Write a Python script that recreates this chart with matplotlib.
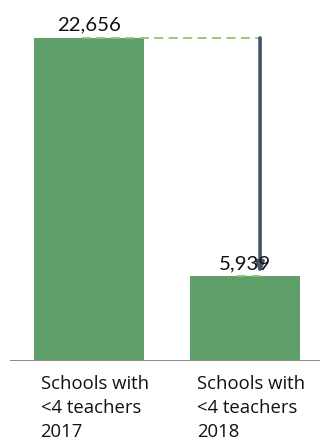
import matplotlib
matplotlib.use("Agg")
import matplotlib.pyplot as plt

# Schools with fewer than 4 teachers
categories = ["Schools with\n<4 teachers\n2017", "Schools with\n<4 teachers\n2018"]
values = [22656, 5939]
value_labels = ["22,656", "5,939"]

C_BAR = "#5FA06A"
C_DASH = "#8CC866"
C_ARROW = "#44546A"
C_AXIS = "#8C8C8C"

fig = plt.figure(figsize=(3.2, 4.43), dpi=100)
fig.patch.set_facecolor("white")
ax = fig.add_axes([10 / 320, 82 / 443, 310 / 320, 361 / 443])
ax.set_xlim(-0.506, 1.48)
ax.set_ylim(0, values[0] * 361 / 323)
for s in ax.spines.values():
    s.set_visible(False)
ax.set_xticks([])
ax.set_yticks([])

xs = [0, 1]
ax.bar(xs, values, width=0.705, color=C_BAR, zorder=2)
ax.axhline(0, color=C_AXIS, lw=2.2, zorder=3)

# drop connector from first bar top to second bar top
x_arr = 1.096
ax.plot([-0.045, x_arr], [values[0], values[0]], ls=(0, (5, 3)), color=C_DASH,
        lw=1.3, zorder=3)
ax.plot([0.95, 1.11], [values[1], values[1]], ls=(0, (5, 3)), color=C_DASH,
        lw=1.3, zorder=3)
ax.annotate("", xy=(x_arr, values[1] + 150), xytext=(x_arr, values[0]),
            arrowprops=dict(arrowstyle="-|>,head_length=0.6,head_width=0.22",
                            color=C_ARROW, lw=2.6, shrinkA=0, shrinkB=0),
            zorder=4)

ax.text(xs[0], values[0] + 350, value_labels[0], ha="center", va="bottom",
        fontsize=14.7, family="Lato", color="#111111", zorder=5)
ax.text(xs[1], values[1] + 250, value_labels[1], ha="center", va="bottom",
        fontsize=14.7, family="Lato", color="#111111", zorder=5)

for x, lab in zip(xs, categories):
    ax.text(x - 0.31, -1000, lab, ha="left", va="top", fontsize=13.3,
            family="Open Sans", color="#111111", linespacing=1.42)

fig.savefig("out.png", dpi=100, facecolor="white")
